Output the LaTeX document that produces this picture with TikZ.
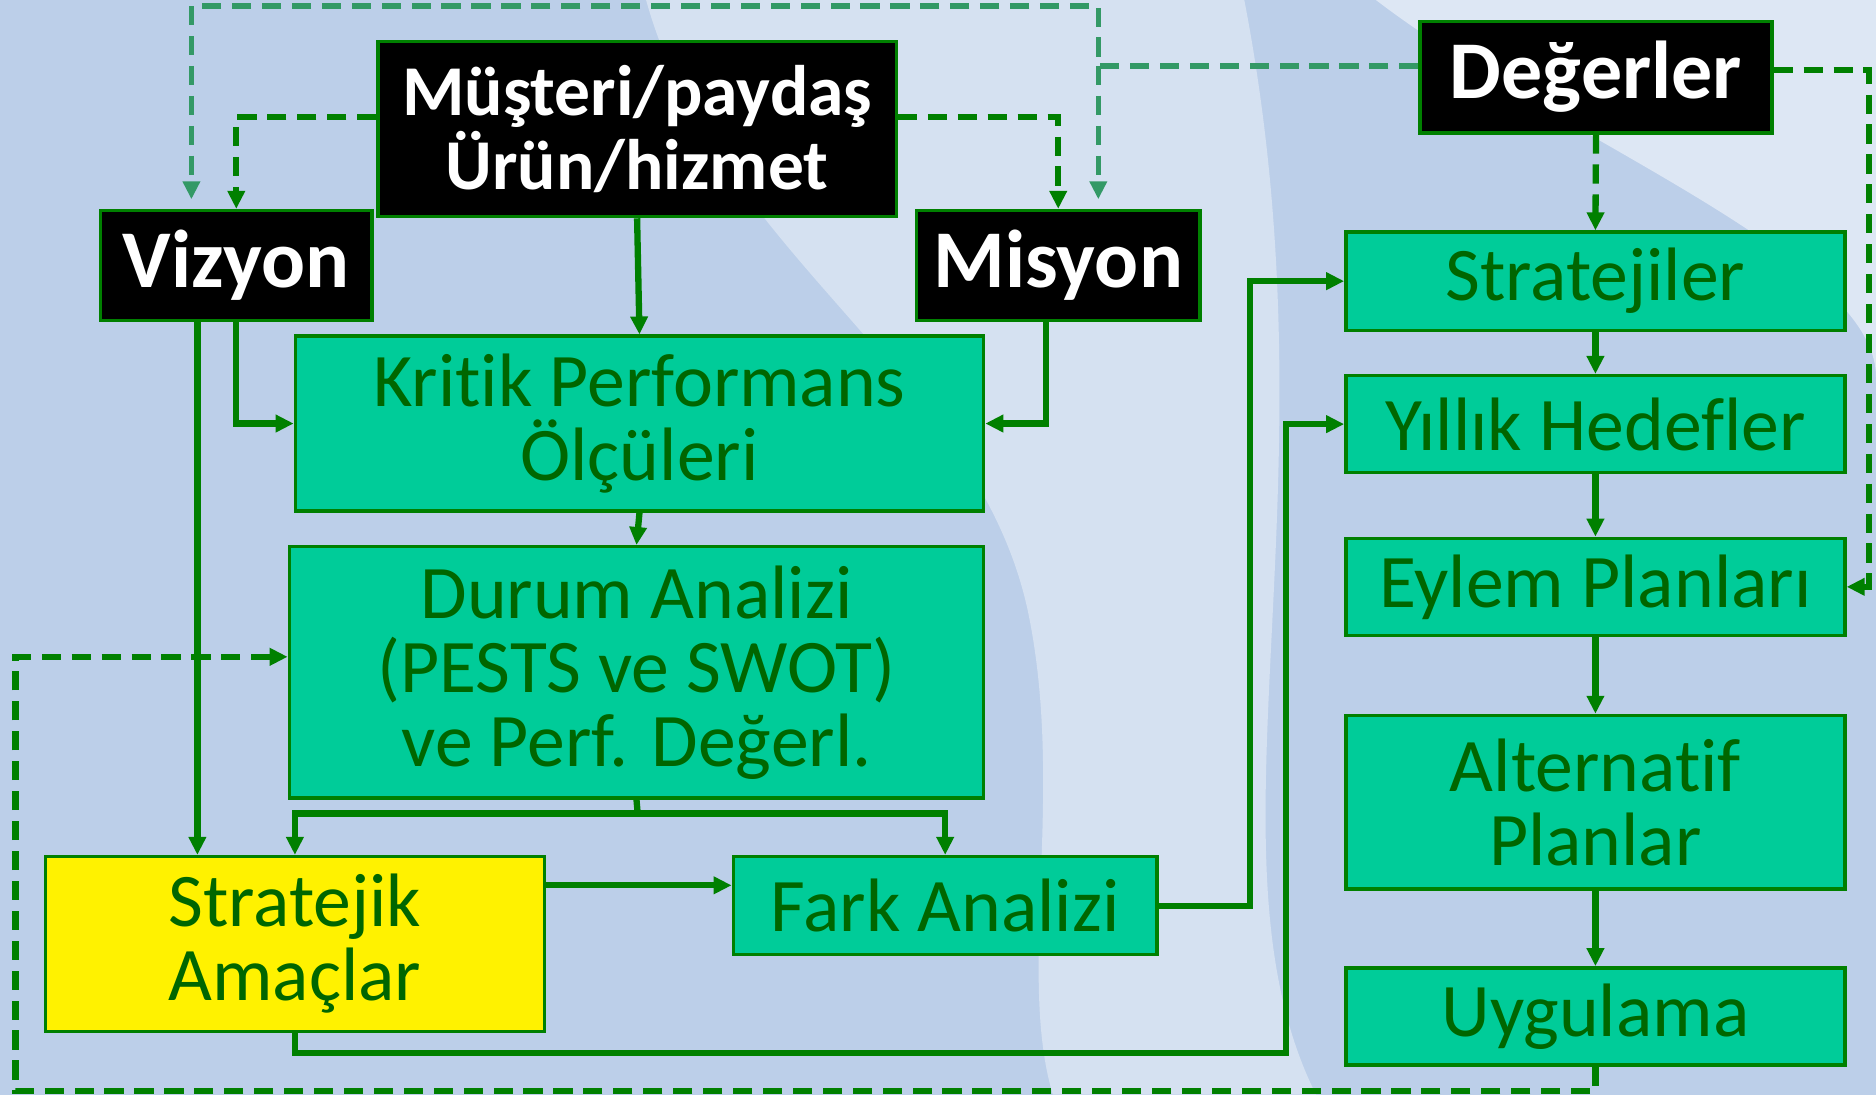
\documentclass[tikz,border=0pt]{standalone}
\usepackage{fontspec}
\setmainfont{Carlito}[Ligatures=NoCommon]
\usetikzlibrary{arrows.meta}
\definecolor{boxfill}{HTML}{00CC99}
\definecolor{boxline}{HTML}{008000}
\definecolor{textgreen}{HTML}{006600}
\definecolor{linegreen}{HTML}{008000}
\definecolor{dashlight}{HTML}{339966}
\definecolor{bgblue}{HTML}{BCCFE9}
\definecolor{bglight}{HTML}{DCE6F3}

\newcommand{\boxfont}{\fontsize{18}{17.6}\selectfont}
\newcommand{\headfont}{\bfseries\fontsize{19.5}{17.6}\selectfont}

\begin{document}
\begin{tikzpicture}[x=0.01cm, y=0.01cm,
  greenbox/.style={draw=boxline, line width=0.8pt, fill=boxfill, text=textgreen, font=\boxfont, align=center, inner sep=0pt},
  blackbox/.style={draw=boxline, line width=0.8pt, fill=black, text=white, font=\headfont, align=center, inner sep=0pt},
  flow/.style={draw=linegreen, line width=1.5pt, -{Triangle[length=1.5mm, width=1.4mm]}},
  feed/.style={flow, dash pattern=on 1.6mm off 0.9mm},
  feedlight/.style={feed, draw=dashlight, line width=1.3pt}
]
  % Background
  \useasboundingbox (0,0) rectangle (1568,915);
  \fill[bgblue] (0,0) rectangle (1568,915);
  \fill[bglight, opacity=0.8] (540,915) .. controls (600,700) and (820,600) .. (860,400)
    .. controls (890,250) and (850,100) .. (880,0) -- (1100,0)
    .. controls (1000,200) and (1120,500) .. (1040,915) -- cycle;
  \fill[white, opacity=0.5] (1150,915) .. controls (1300,800) and (1568,700) .. (1568,600) -- (1568,915) -- cycle;

  % Black boxes
  \node[blackbox, font=\bfseries\fontsize{17}{17.6}\selectfont, minimum width=4.33cm, minimum height=1.46cm] (musteri) at (532.5,807) {Müşteri/paydaş\\Ürün/hizmet};
  \node[blackbox, minimum width=2.27cm, minimum height=0.92cm] (vizyon) at (197.5,693) {Vizyon};
  \node[blackbox, minimum width=2.37cm, minimum height=0.92cm] (misyon) at (884.5,693) {Misyon};
  \node[blackbox, minimum width=2.94cm, minimum height=0.93cm] (degerler) at (1334,850.5) {Değerler};

  % Left part
  \node[greenbox, minimum width=5.75cm, minimum height=1.46cm] (kritik) at (534.5,561) {Kritik Performans\\Ölçüleri};
  \node[greenbox, minimum width=5.80cm, minimum height=2.10cm] (durum) at (532,353) {Durum Analizi\\(PESTS ve SWOT)\\ve Perf. Değerl.};
  \node[greenbox, fill=yellow, minimum width=4.17cm, minimum height=1.46cm] (amaclar) at (246.5,126) {Stratejik\\Amaçlar};
  \node[greenbox, minimum width=3.54cm, minimum height=0.82cm] (fark) at (790,158) {Fark Analizi};

  % Right column
  \node[greenbox, minimum width=4.17cm, minimum height=0.82cm] (stratejiler) at (1333.5,680) {Stratejiler};
  \node[greenbox, minimum width=4.17cm, minimum height=0.81cm] (hedefler) at (1333.5,560.5) {Yıllık Hedefler};
  \node[greenbox, minimum width=4.17cm, minimum height=0.81cm] (eylem) at (1333.5,424.5) {Eylem Planları};
  \node[greenbox, minimum width=4.17cm, minimum height=1.45cm] (alternatif) at (1333.5,244.5) {Alternatif\\Planlar};
  \node[greenbox, minimum width=4.17cm, minimum height=0.81cm] (uygulama) at (1333.5,65.5) {Uygulama};

  % Rails
  \coordinate (topjoin) at (918,860);
  \coordinate (toprail) at (160,910);
  \coordinate (vizleft) at ([xshift=-0.325cm]vizyon.south);
  \coordinate (split) at (533,235);
  \coordinate (farkin) at ([yshift=0.17cm]fark.west);
  \coordinate (durumin) at ([yshift=0.13cm]durum.west);
  \coordinate (lowrail) at (1075,35);
  \coordinate (midrail) at (1045,0);
  \coordinate (rightrail) at (1562,0);
  \coordinate (bottomrail) at (13,3);

  % Values
  \draw[feedlight, shorten >=0.8mm] (degerler.west |- topjoin) -- (topjoin) |- (toprail) -- (toprail |- vizyon.north);
  \draw[feedlight, shorten >=0.8mm] (topjoin) -- (topjoin |- misyon.north);
  \draw[feed] (degerler.south) -- (stratejiler.north);
  \draw[feed] ([yshift=0.06cm]degerler.east) -- ([yshift=0.06cm]degerler.east -| rightrail) |- (eylem.east);

  % Customers
  \draw[feed] ([yshift=0.1cm]musteri.west) -| (vizyon.north);
  \draw[feed] ([yshift=0.1cm]musteri.east) -| (misyon.north);
  \draw[flow] (musteri.south) -- (kritik.north);

  % Main flow
  \draw[flow] (vizleft) -- (vizleft |- amaclar.north);
  \draw[flow] (vizyon.south) |- (kritik.west);
  \draw[flow] ([xshift=-0.1cm]misyon.south) |- (kritik.east);
  \draw[flow] (kritik.south) -- (durum.north);
  \draw[draw=linegreen, line width=1.5pt] (durum.south) -- (split);
  \draw[flow] (split) -| (amaclar.north);
  \draw[flow] (split) -| (fark.north);
  \draw[flow] (amaclar.east |- farkin) -- (farkin);
  \draw[flow] (amaclar.south) |- (lowrail) |- (hedefler.west);
  \draw[flow] (fark.east) -- (fark.east -| midrail) |- (stratejiler.west);

  % Right column
  \draw[flow] (stratejiler) -- (hedefler);
  \draw[flow] (hedefler) -- (eylem);
  \draw[flow] (eylem) -- (alternatif);
  \draw[flow] (alternatif) -- (uygulama);

  % Feedback
  \draw[feed] (uygulama.south) |- (bottomrail) |- (durumin);
\end{tikzpicture}
\end{document}
